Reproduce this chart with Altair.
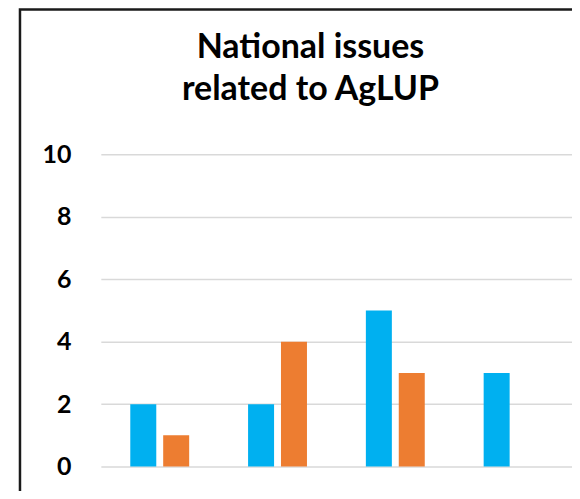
import altair as alt
import pandas as pd

categories = ["Category 1", "Category 2", "Category 3", "Category 4"]
series_1 = [2, 2, 5, 3]
series_2 = [1, 4, 3, 0]
series_names = ["Series 1", "Series 2"]
y_ticks = [0, 2, 4, 6, 8, 10]
colors = ["#00B0F0", "#ED7D31"]

rows = []
for c, a, b in zip(categories, series_1, series_2):
    rows.append({"cat": c, "series": series_names[0], "value": a})
    rows.append({"cat": c, "series": series_names[1], "value": b})
df = pd.DataFrame(rows)

bars = alt.Chart(df).mark_bar().encode(
    x=alt.X("cat:N", sort=categories, axis=None,
            scale=alt.Scale(paddingInner=0.5, paddingOuter=0.25)),
    xOffset=alt.XOffset("series:N", sort=series_names,
                        scale=alt.Scale(paddingInner=0.21, paddingOuter=0)),
    y=alt.Y("value:Q", scale=alt.Scale(domain=[0, 10]),
            axis=alt.Axis(values=y_ticks, title=None, domain=False, ticks=False,
                          labelFont="Lato", labelFontWeight="bold", labelFontSize=25,
                          labelColor="#000000", labelPadding=30,
                          grid=True, gridColor="#d9d9d9", gridWidth=1.5)),
    color=alt.Color("series:N", sort=series_names,
                    scale=alt.Scale(domain=series_names, range=colors), legend=None),
)

frame = alt.Chart(pd.DataFrame({"a": [0]})).mark_rect(
    fill=None, stroke="#1a1a1a", strokeWidth=2.5
).encode(
    x=alt.value(-81), x2=alt.value(800), y=alt.value(-145), y2=alt.value(800)
)

chart = alt.layer(bars, frame).properties(
    width=472, height=313,
    autosize=alt.AutoSizeParams(type="none"),
    padding={"left": 93, "top": 146, "right": 0, "bottom": 24},
    title=alt.TitleParams(
        text=["National issues", "related to AgLUP"],
        font="Lato", fontSize=34, fontWeight="bold", color="#000000",
        anchor="middle", dx=-26, lineHeight=42, offset=-99, frame="group",
    ),
).configure_view(stroke=None)

chart.save("out.html", embed_options={"renderer": "svg", "actions": False})
